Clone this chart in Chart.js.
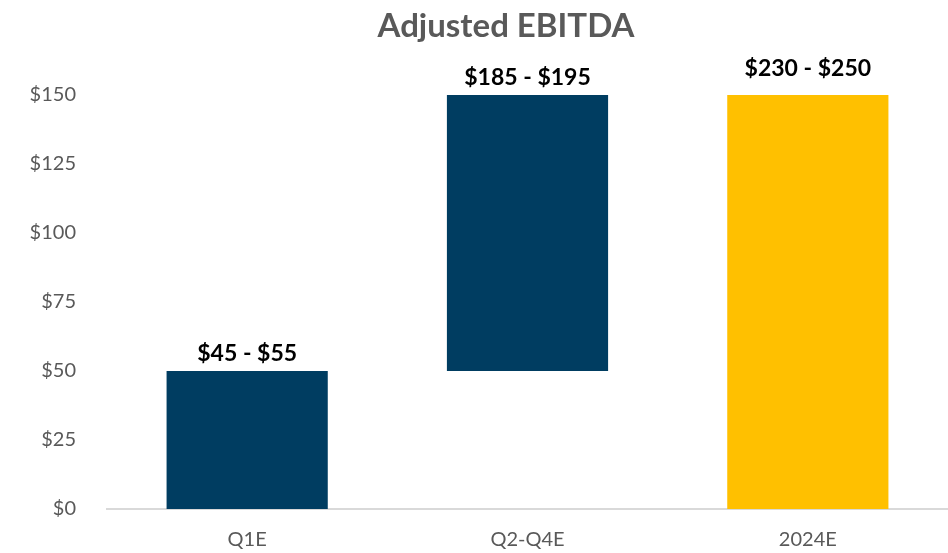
<!DOCTYPE html>
<html>
<head>
<meta charset="utf-8">
<script src="https://cdn.jsdelivr.net/npm/chart.js@4/dist/chart.umd.min.js"></script>
<style>
html,body{margin:0;padding:0;background:#fff;}
#wrap{width:948px;height:553px;}
</style>
</head>
<body>
<div id="wrap"><canvas id="c" width="948" height="553"></canvas></div>
<script>
const categories = ["Q1E", "Q2-Q4E", "2024E"];
const barLow = [0, 50, 0];
const barHigh = [50, 150, 150];
const rangeLabels = ["$45 - $55", "$185 - $195", "$230 - $250"];
const labelLift = [6, 6, 15];
const barColors = ["#003D61", "#003D61", "#FFC000"];
const yTicks = [0, 25, 50, 75, 100, 125, 150];
const titleText = "Adjusted EBITDA";

const FONT = "Lato, 'Open Sans', sans-serif";

const labelPlugin = {
  id: 'labels',
  afterDatasetsDraw(chart) {
    const ctx = chart.ctx;
    const meta = chart.getDatasetMeta(0);
    ctx.save();
    ctx.font = "bold 23px " + FONT;
    ctx.fillStyle = "#000000";
    ctx.textAlign = "center";
    ctx.textBaseline = "bottom";
    meta.data.forEach((bar, i) => {
      ctx.fillText(rangeLabels[i], bar.x, bar.y - labelLift[i]);
    });
    ctx.font = "bold 33px " + FONT;
    ctx.fillStyle = "#595959";
    ctx.textBaseline = "middle";
    ctx.fillText(titleText, 506, 26);
    ctx.restore();
  }
};

new Chart(document.getElementById('c'), {
  type: 'bar',
  data: {
    labels: categories,
    datasets: [{
      data: categories.map((c, i) => [barLow[i], barHigh[i]]),
      backgroundColor: barColors,
      borderWidth: 0,
      categoryPercentage: 1,
      barPercentage: 0.575
    }]
  },
  options: {
    responsive: false,
    animation: false,
    layout: { padding: { top: 95, right: 0, bottom: 0, left: 0 } },
    plugins: { legend: { display: false }, tooltip: { enabled: false }, title: { display: false } },
    scales: {
      x: {
        grid: { display: false },
        border: { display: true, color: "#D9D9D9", width: 2 },
        ticks: { color: "#595959", font: { family: FONT, size: 20 }, padding: 11 },
        afterFit(axis) { axis.height = 44; }
      },
      y: {
        min: 0, max: 150,
        afterBuildTicks(axis) { axis.ticks = yTicks.map(v => ({ value: v })); },
        grid: { display: false },
        border: { display: false },
        ticks: { color: "#595959", font: { family: FONT, size: 20 }, padding: 23,
          callback: v => "$" + v },
        afterFit(axis) { axis.width = 107; }
      }
    }
  },
  plugins: [labelPlugin]
});
</script>
</body>
</html>
